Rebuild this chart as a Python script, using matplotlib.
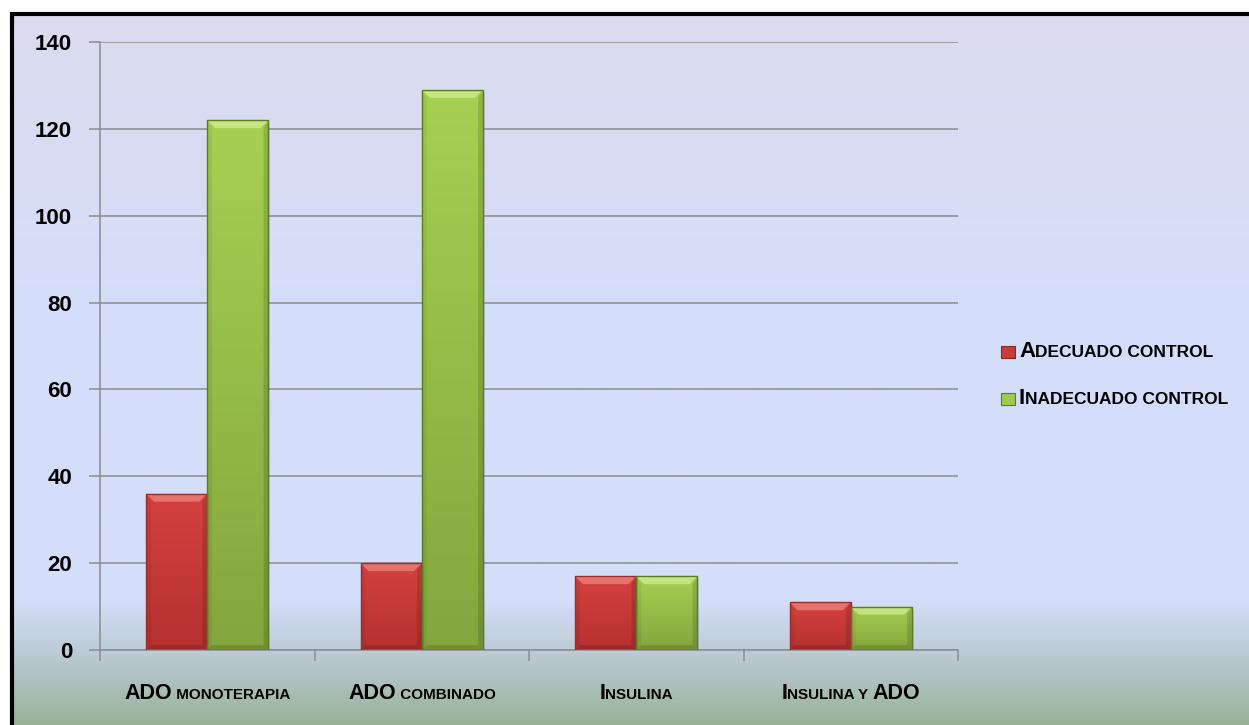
import numpy as np
import matplotlib
matplotlib.use("Agg")
import matplotlib.pyplot as plt
from matplotlib import font_manager
from matplotlib.patches import Rectangle, Polygon
from matplotlib.offsetbox import TextArea, HPacker, AnnotationBbox
from matplotlib.colors import LinearSegmentedColormap

# --- data -------------------------------------------------------------
# category labels as (large part, small-caps part) pieces
categories = [
    [("ADO", 15.5), (" MONOTERAPIA", 11)],
    [("ADO", 15.5), (" COMBINADO", 11)],
    [("I", 15.5), ("NSULINA", 11)],
    [("I", 15.5), ("NSULINA Y ", 11), ("ADO", 15.5)],
]
series_names = [
    [("A", 16), ("DECUADO CONTROL", 12.5)],
    [("I", 16), ("NADECUADO CONTROL", 12.5)],
]
adecuado = [36, 20, 17, 11]
inadecuado = [122, 129, 17, 10]
y_ticks = [0, 20, 40, 60, 80, 100, 120, 140]

# prefer a narrow bold face when one is installed
names = {f.name for f in font_manager.fontManager.ttflist}
FONT = [n for n in ["Liberation Sans Narrow", "Arial Narrow", "DejaVu Sans Condensed"]
        if n in names] + ["Liberation Sans", "DejaVu Sans"]

W, H = 1249, 725
fig = plt.figure(figsize=(W / 100, H / 100), dpi=100)
fig.patch.set_facecolor("white")

# background gradient inside the frame
bg = fig.add_axes([0, 0, 1, 1], zorder=-10)
bg.set_axis_off()
ys = np.linspace(0, 1, 400)
top = np.array([219, 219, 237]) / 255
mid = np.array([212, 222, 250]) / 255
low = np.array([190, 204, 216]) / 255
bot = np.array([152, 178, 152]) / 255
cols = []
for t in ys:  # t = 0 at top
    py = t * H
    if py < 330:
        f = py / 330
        c = top * (1 - f) + mid * f
    elif py < 600:
        c = mid
    elif py < 650:
        f = (py - 600) / 50
        c = mid * (1 - f) + low * f
    else:
        f = (py - 650) / 75
        c = low * (1 - f) + bot * f
    cols.append(c)
img = np.array(cols)[:, None, :]
bg.imshow(img, aspect="auto", extent=[0, 1, 0, 1], origin="upper")
bg.set_xlim(0, 1)
bg.set_ylim(0, 1)
# white margin above/left of the frame, then the black frame
bg.add_patch(Rectangle((0, 1 - 13 / H), 1, 13 / H, color="white", zorder=2))
bg.add_patch(Rectangle((0, 0), 10 / W, 1, color="white", zorder=2))
bg.plot([11 / W, 1.01], [1 - 13.5 / H, 1 - 13.5 / H], color="black", lw=3, zorder=3,
        solid_capstyle="butt")
bg.plot([11.5 / W, 11.5 / W], [-0.01, 1 - 12 / H], color="black", lw=3, zorder=3,
        solid_capstyle="butt")

# --- main axes ----------------------------------------------------------
x0, x1 = 100, 958
y0, y1 = 650, 42
ax = fig.add_axes([x0 / W, 1 - y0 / H, (x1 - x0) / W, (y0 - y1) / H])
ax.patch.set_alpha(0)

n = len(adecuado)
x = np.arange(n)
bw = 0.285
ax.set_xlim(-0.5, n - 0.5)
ax.set_ylim(0, 140)
px_y = 140 / 608          # data units per pixel, vertical
px_x = n / 858            # data units per pixel, horizontal

red_cmap = LinearSegmentedColormap.from_list("r", ["#b53130", "#d4423e"])
grn_cmap = LinearSegmentedColormap.from_list("g", ["#84a63e", "#a6d052"])

def draw_bars(xs, vals, cmap, edge, light):
    bars = ax.bar(xs, vals, bw, color="none", edgecolor=edge, linewidth=1.0, zorder=3)
    for b in bars:
        bx, by, w, h = b.get_x(), b.get_y(), b.get_width(), b.get_height()
        # soft drop shadow
        ax.add_patch(Rectangle((bx + 2 * px_x, by - 3 * px_y), w, h, color="black",
                               alpha=0.10, lw=0, zorder=2.2))
        grad = np.linspace(0, 1, 100)[:, None]
        im = ax.imshow(grad, cmap=cmap, aspect="auto", origin="lower",
                       extent=[bx, bx + w, by, by + h], zorder=2.5)
        im.set_clip_path(b)
        bev_y = min(8 * px_y, h * 0.45)
        bev_x = 8 * px_x
        # bevelled top edge
        ax.add_patch(Polygon([[bx, by + h], [bx + w, by + h],
                              [bx + w - bev_x, by + h - bev_y],
                              [bx + bev_x, by + h - bev_y]],
                             closed=True, color=light, alpha=0.6, lw=0, zorder=2.7))
        # darker side and bottom edges
        ax.add_patch(Polygon([[bx + w, by + h], [bx + w, by],
                              [bx + w - bev_x * 0.6, by + bev_y * 0.6],
                              [bx + w - bev_x * 0.6, by + h - bev_y]],
                             closed=True, color="black", alpha=0.13, lw=0, zorder=2.7))
        ax.add_patch(Polygon([[bx, by + h], [bx, by],
                              [bx + bev_x * 0.6, by + bev_y * 0.6],
                              [bx + bev_x * 0.6, by + h - bev_y]],
                             closed=True, color="black", alpha=0.06, lw=0, zorder=2.7))
        ax.add_patch(Polygon([[bx, by], [bx + w, by],
                              [bx + w - bev_x * 0.6, by + bev_y * 0.6],
                              [bx + bev_x * 0.6, by + bev_y * 0.6]],
                             closed=True, color="black", alpha=0.14, lw=0, zorder=2.7))
    return bars

draw_bars(x - bw / 2, adecuado, red_cmap, "#9a2e2c", "#f3958f")
draw_bars(x + bw / 2, inadecuado, grn_cmap, "#5d7a25", "#ddf39e")

# grid and axes
ax.set_yticks(y_ticks)
ax.yaxis.grid(True, color="#8c8c8c", lw=1.1, zorder=1)
ax.set_axisbelow(True)
for s in ["top", "right"]:
    ax.spines[s].set_visible(False)
for s in ["left", "bottom"]:
    ax.spines[s].set_color("#8c8c8c")
    ax.spines[s].set_linewidth(1.1)
ax.tick_params(axis="y", length=8, width=1.1, color="#8c8c8c", pad=12)
for lab in ax.get_yticklabels():
    lab.set_fontfamily(FONT)
    lab.set_fontweight("bold")
    lab.set_fontsize(16)
ax.set_xticks(np.arange(n + 1) - 0.5)
ax.set_xticklabels([])
ax.tick_params(axis="x", length=8, width=1.1, color="#8c8c8c")

def smallcaps(parts):
    areas = [TextArea(t, textprops=dict(fontsize=s, fontweight="bold", family=FONT,
                                        color="black")) for t, s in parts]
    return HPacker(children=areas, align="baseline", pad=0, sep=0)

for i, parts in enumerate(categories):
    ab = AnnotationBbox(smallcaps(parts), (i, 0), xybox=(0, -31),
                        xycoords=("data", "axes fraction"), boxcoords="offset points",
                        frameon=False, box_alignment=(0.5, 0.5), annotation_clip=False)
    ax.add_artist(ab)

# legend
leg_cols = ["#c93c38", "#9fc94f"]
leg_edges = ["#8a2826", "#5d7a25"]
leg_y = [352, 399]
for name, c, e, py in zip(series_names, leg_cols, leg_edges, leg_y):
    fig.patches.append(Rectangle((1001 / W, 1 - (py + 6) / H), 14 / W, 12 / H,
                                 transform=fig.transFigure, facecolor=c,
                                 edgecolor=e, lw=0.8))
    ab = AnnotationBbox(smallcaps(name), (1019 / W, 1 - py / H), xycoords="figure fraction",
                        frameon=False, box_alignment=(0, 0.5), annotation_clip=False)
    fig.add_artist(ab)

fig.savefig("out.png", dpi=100)
